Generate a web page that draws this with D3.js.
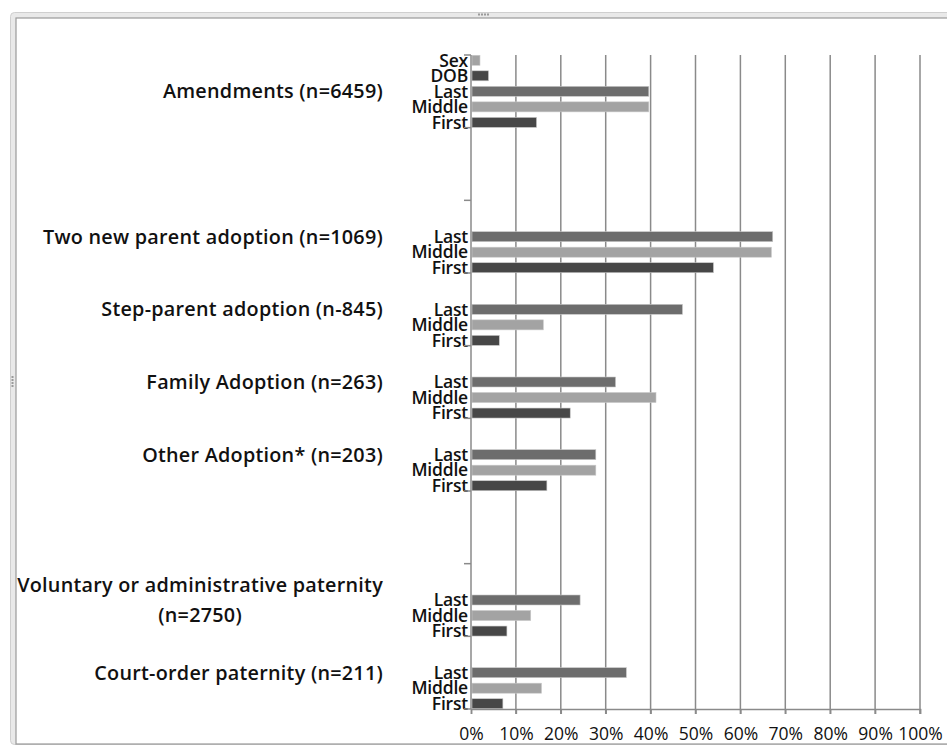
<!DOCTYPE html>
<html>
<head>
<meta charset="utf-8">
<script src="https://cdn.jsdelivr.net/npm/d3@7"></script>
<style>
  html, body { margin: 0; padding: 0; background: #fff; }
  svg { display: block; }
</style>
</head>
<body>
<svg id="chart" width="947" height="748"></svg>
<script>
// ---- data ----
const categoryKeys = ["amend", "gap1", "twonew", "step", "family", "other", "gap2", "voluntary", "court"];
const categoryLabels = [
  ["Amendments (n=6459)"],
  [],
  ["Two new parent adoption (n=1069)"],
  ["Step-parent adoption (n-845)"],
  ["Family Adoption (n=263)"],
  ["Other Adoption* (n=203)"],
  [],
  ["Voluntary or administrative paternity", "(n=2750)"],
  ["Court-order paternity (n=211)"]
];
const seriesNames = ["Sex", "DOB", "Last", "Middle", "First"];
const sexValues    = [2.0,  null, null, null, null, null, null, null, null];
const dobValues    = [3.9,  null, null, null, null, null, null, null, null];
const lastValues   = [39.6, null, 67.2, 47.1, 32.2, 27.8, null, 24.3, 34.6];
const middleValues = [39.6, null, 66.9, 16.1, 41.2, 27.8, null, 13.3, 15.7];
const firstValues  = [14.6, null, 54.0, 6.3,  22.1, 16.9, null, 8.0,  7.1];
const xTicks = [0, 10, 20, 30, 40, 50, 60, 70, 80, 90, 100];

const seriesValues = { Sex: sexValues, DOB: dobValues, Last: lastValues, Middle: middleValues, First: firstValues };
const seriesColors = { Sex: "#a3a3a3", DOB: "#474747", Last: "#6d6d6d", Middle: "#a3a3a3", First: "#474747" };

// ---- layout ----
const svg = d3.select("#chart");
const plot = { left: 471, right: 920, top: 55, bottom: 709 };

// frame (window-like border)
const frame = svg.append("g");
frame.append("rect").attr("x", 10.5).attr("y", 12.5).attr("width", 960).attr("height", 732)
  .attr("rx", 4).attr("fill", "#e9e9e9").attr("stroke", "#cfcfcf");
frame.append("rect").attr("x", 16).attr("y", 18).attr("width", 960).attr("height", 726)
  .attr("fill", "#ffffff").attr("stroke", "#9a9a9a").attr("stroke-width", 1.2);
// handle dots
[0,1,2,3].forEach(i => {
  frame.append("rect").attr("x", 478 + i * 3).attr("y", 13.5).attr("width", 2).attr("height", 2).attr("fill", "#9a9a9a");
  frame.append("rect").attr("x", 11.5).attr("y", 376 + i * 3).attr("width", 2).attr("height", 2).attr("fill", "#9a9a9a");
});

const x = d3.scaleLinear().domain([0, 100]).range([plot.left, plot.right]);
const y = d3.scaleBand().domain(categoryKeys).range([plot.top, plot.bottom]).padding(0);
const yInner = d3.scalePoint().domain(seriesNames).range([0, y.bandwidth()]).padding(0.34);
const barH = 10;

// gridlines
svg.append("g").selectAll("line").data(xTicks.filter(t => t > 0)).join("line")
  .attr("x1", d => x(d)).attr("x2", d => x(d))
  .attr("y1", plot.top).attr("y2", plot.bottom + 5)
  .attr("stroke", "#8a8a8a").attr("stroke-width", 1.5);

// bars
const barData = [];
categoryKeys.forEach((k, i) => {
  seriesNames.forEach(s => {
    const v = seriesValues[s][i];
    if (v !== null) barData.push({ cat: k, series: s, value: v });
  });
});
svg.append("g").selectAll("rect").data(barData).join("rect")
  .attr("x", x(0) + 1)
  .attr("y", d => y(d.cat) + yInner(d.series) - barH / 2)
  .attr("width", d => x(d.value) - x(0) - 1)
  .attr("height", barH)
  .attr("fill", d => seriesColors[d.series])
  .attr("stroke", "#c8c8c8").attr("stroke-width", 0.6);

// bar labels
svg.append("g").selectAll("text").data(barData).join("text")
  .attr("x", plot.left - 3)
  .attr("y", d => y(d.cat) + yInner(d.series))
  .attr("dy", "0.36em")
  .attr("text-anchor", "end")
  .attr("font-family", "'Open Sans', sans-serif")
  .attr("font-weight", 600)
  .attr("font-size", 17.5)
  .attr("letter-spacing", -0.2)
  .attr("fill", "#111")
  .text(d => d.series);

// y axis line and boundary ticks
const yAx = svg.append("g");
yAx.append("line").attr("x1", plot.left).attr("x2", plot.left)
  .attr("y1", plot.top).attr("y2", plot.bottom).attr("stroke", "#8a8a8a").attr("stroke-width", 1.5);
const boundaries = categoryKeys.map(k => y(k)).concat([y(categoryKeys[categoryKeys.length - 1]) + y.bandwidth()]);
yAx.selectAll("line.tick").data(boundaries).join("line").attr("class", "tick")
  .attr("x1", plot.left - 7).attr("x2", plot.left)
  .attr("y1", d => d).attr("y2", d => d)
  .attr("stroke", "#8a8a8a").attr("stroke-width", 1.5);

// x axis
const xAxis = d3.axisBottom(x).tickValues(xTicks).tickFormat(d => d + "%").tickSize(5).tickPadding(14);
const xg = svg.append("g").attr("transform", `translate(0,${plot.bottom})`).call(xAxis);
xg.select(".domain").attr("stroke", "#8a8a8a").attr("stroke-width", 1.5);
xg.selectAll(".tick line").attr("stroke", "#8a8a8a").attr("stroke-width", 1.5);
xg.selectAll(".tick text").attr("font-family", "'Open Sans', sans-serif").attr("font-size", 17.5).attr("font-weight", 500).attr("fill", "#111");

// group labels
const labelRight = 383;
const lineGap = 30;
categoryKeys.forEach((k, i) => {
  const lines = categoryLabels[i];
  if (!lines.length) return;
  const cy = y(k) + y.bandwidth() / 2;
  const g = svg.append("g");
  const texts = lines.map((ln, j) => g.append("text")
    .attr("y", cy + (j - (lines.length - 1) / 2) * lineGap)
    .attr("dy", "0.36em")
    .attr("font-family", "'Open Sans', sans-serif")
    .attr("font-size", 19.8)
    .attr("font-weight", 600)
    .attr("letter-spacing", 0.25)
    .attr("fill", "#111")
    .text(ln));
  if (lines.length === 1) {
    texts[0].attr("x", labelRight).attr("text-anchor", "end");
  } else {
    const maxW = d3.max(texts, t => t.node().getComputedTextLength());
    texts.forEach(t => t.attr("x", labelRight - maxW / 2).attr("text-anchor", "middle"));
  }
});
</script>
</body>
</html>
